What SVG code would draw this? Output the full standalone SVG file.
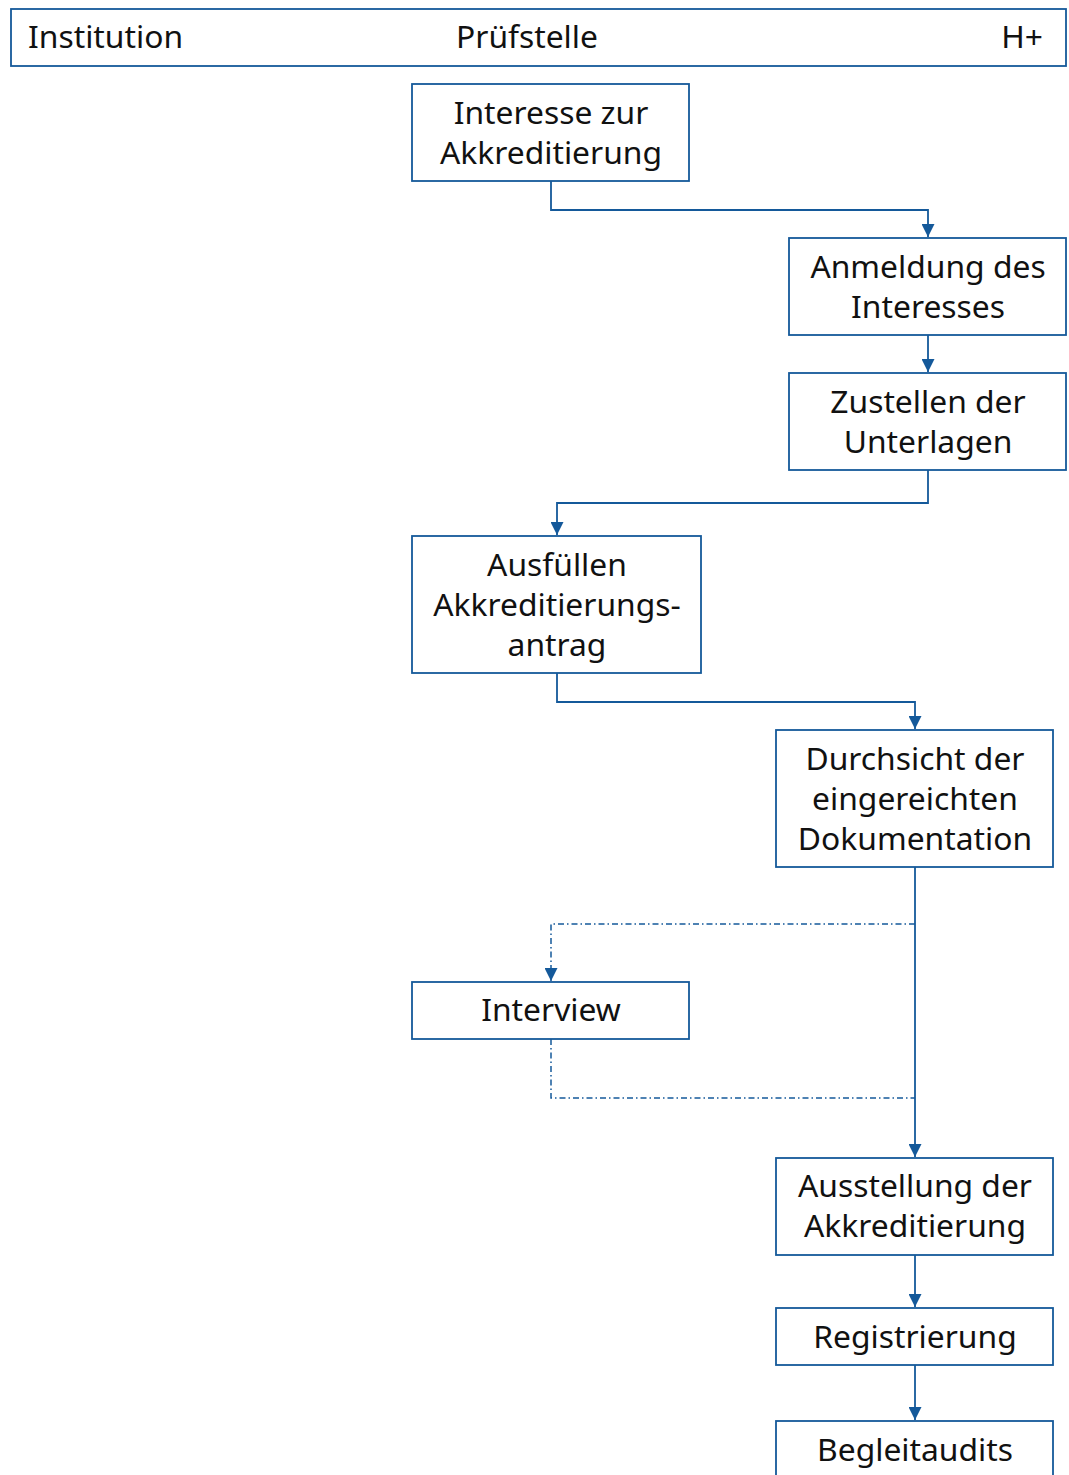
<svg xmlns="http://www.w3.org/2000/svg" width="1069" height="1475" viewBox="0 0 1069 1475">
<defs>
<style>
.box{fill:#fff;stroke:#14599a;stroke-width:1.8}
.t{font-family:"Noto Sans","Open Sans",sans-serif;font-size:31.8px;fill:#111;text-anchor:middle}
.h{font-family:"Noto Sans","Open Sans",sans-serif;font-size:31.8px;fill:#111}
.c{fill:none;stroke:#14599a;stroke-width:1.8}
.d{fill:none;stroke:#14599a;stroke-width:1.5;stroke-dasharray:6 3 1.5 3}
</style>
<marker id="ah" viewBox="0 0 12 12" markerWidth="13" markerHeight="13" refX="12" refY="6" orient="auto" markerUnits="userSpaceOnUse">
<path d="M0,0 L12,6 L0,12 Z" fill="#14599a"/>
</marker>
</defs>
<rect width="1069" height="1475" fill="#fff"/>
<g id="header">
<rect class="box" x="11" y="9" width="1055" height="57"/>
<text class="h" x="28" y="48">Institution</text>
<text class="h" x="527" y="48" text-anchor="middle">Prüfstelle</text>
<text class="h" x="1043" y="48" text-anchor="end">H+</text>
</g>
<g id="connectors">
<path class="c" d="M551,181 V210 H928 V237" marker-end="url(#ah)"/>
<path class="c" d="M928,335 V372" marker-end="url(#ah)"/>
<path class="c" d="M928,470 V503 H557 V535" marker-end="url(#ah)"/>
<path class="c" d="M557,673 V702 H915 V729" marker-end="url(#ah)"/>
<path class="c" d="M915,867 V1157" marker-end="url(#ah)"/>
<path class="d" d="M915,924 H551 V981" marker-end="url(#ah)"/>
<path class="d" d="M551,1039 V1098 H915"/>
<path class="c" d="M915,1255 V1307" marker-end="url(#ah)"/>
<path class="c" d="M915,1365 V1420" marker-end="url(#ah)"/>
</g>
<g id="n1">
<rect class="box" x="412" y="84" width="277" height="97"/>
<text class="t" x="551" y="124">Interesse zur</text>
<text class="t" x="551" y="164">Akkreditierung</text>
</g>
<g id="n2">
<rect class="box" x="789" y="238" width="277" height="97"/>
<text class="t" x="928" y="278">Anmeldung des</text>
<text class="t" x="928" y="318">Interesses</text>
</g>
<g id="n3">
<rect class="box" x="789" y="373" width="277" height="97"/>
<text class="t" x="928" y="413">Zustellen der</text>
<text class="t" x="928" y="453">Unterlagen</text>
</g>
<g id="n4">
<rect class="box" x="412" y="536" width="289" height="137"/>
<text class="t" x="557" y="576">Ausfüllen</text>
<text class="t" x="557" y="616">Akkreditierungs-</text>
<text class="t" x="557" y="656">antrag</text>
</g>
<g id="n5">
<rect class="box" x="776" y="730" width="277" height="137"/>
<text class="t" x="915" y="770">Durchsicht der</text>
<text class="t" x="915" y="810">eingereichten</text>
<text class="t" x="915" y="850">Dokumentation</text>
</g>
<g id="n6">
<rect class="box" x="412" y="982" width="277" height="57"/>
<text class="t" x="551" y="1021">Interview</text>
</g>
<g id="n7">
<rect class="box" x="776" y="1158" width="277" height="97"/>
<text class="t" x="915" y="1197">Ausstellung der</text>
<text class="t" x="915" y="1237">Akkreditierung</text>
</g>
<g id="n8">
<rect class="box" x="776" y="1308" width="277" height="57"/>
<text class="t" x="915" y="1348">Registrierung</text>
</g>
<g id="n9">
<rect class="box" x="776" y="1421" width="277" height="80"/>
<text class="t" x="915" y="1461">Begleitaudits</text>
</g>
</svg>
